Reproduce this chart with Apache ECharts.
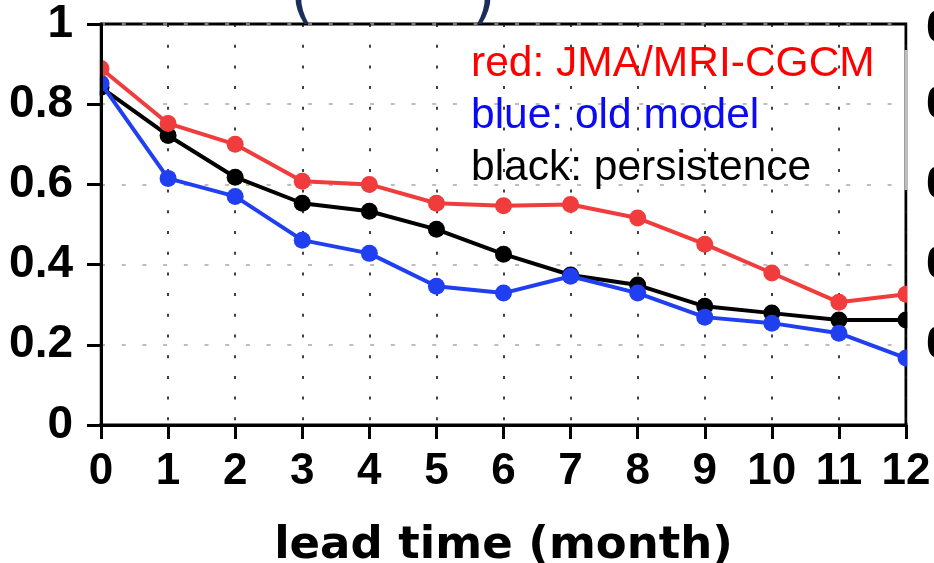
<!DOCTYPE html>
<html>
<head>
<meta charset="utf-8">
<script src="https://cdn.jsdelivr.net/npm/echarts@6/dist/echarts.min.js"></script>
<style>
  html, body { margin: 0; padding: 0; background: #ffffff; }
  #chart { width: 934px; height: 563px; }
</style>
</head>
<body>
<div id="chart"></div>
<script>
// Anomaly correlation versus forecast lead time
const leadMonths = [0, 1, 2, 3, 4, 5, 6, 7, 8, 9, 10, 11, 12];
const jmaMriCgcm = [0.889, 0.752, 0.700, 0.608, 0.600, 0.553, 0.547, 0.550, 0.516, 0.451, 0.379, 0.306, 0.326];
const oldModel = [0.852, 0.615, 0.570, 0.461, 0.428, 0.346, 0.329, 0.371, 0.329, 0.269, 0.254, 0.229, 0.167];
const persistence = [0.842, 0.722, 0.618, 0.553, 0.533, 0.488, 0.426, 0.374, 0.349, 0.296, 0.279, 0.262, 0.262];

const seriesNames = ['red: JMA/MRI-CGCM', 'blue: old model', 'black: persistence'];
const yTickLabels = ['0', '0.2', '0.4', '0.6', '0.8', '1'];
const xTickLabels = ['0', '1', '2', '3', '4', '5', '6', '7', '8', '9', '10', '11', '12'];
const xAxisTitle = 'lead time (month)';
const neighbourTickLabels = ['0', '0', '0', '0', '0'];

const RED = '#f03c3c';
const BLUE = '#1f3ff0';
const BLACK = '#000000';

const pairs = (vals) => leadMonths.map((m, i) => [m, vals[i]]);

const chart = echarts.init(document.getElementById('chart'), null, { renderer: 'canvas' });

const tickFont = '"Liberation Sans", Arial, sans-serif';

const lineSeries = (name, vals, color, z) => ({
  name: name,
  type: 'line',
  xAxisIndex: 0,
  yAxisIndex: 0,
  data: pairs(vals),
  symbol: 'circle',
  symbolSize: 17,
  clip: false,
  z: z,
  lineStyle: { color: color, width: 4 },
  itemStyle: { color: color },
  emphasis: { disabled: true },
  animation: false
});

const option = {
  animation: false,
  grid: {
    left: 101, right: 28, top: 24, bottom: 138,
    outerBoundsMode: 'none',
    containLabel: false,
    show: true, borderColor: '#000', borderWidth: 3, backgroundColor: 'transparent'
  },
  xAxis: [
    {
      // gridlines only, kept below the lines
      type: 'value', min: 0, max: 12, interval: 1, z: 0,
      axisLine: { show: false }, axisTick: { show: false }, axisLabel: { show: false },
      splitLine: { show: true, lineStyle: { color: '#111', width: 1.6, type: [3, 17.7] } }
    },
    {
      type: 'value', min: 0, max: 12, interval: 1, z: 10, position: 'bottom',
      axisLine: { show: true, onZero: false, lineStyle: { color: '#000', width: 3 } },
      axisTick: { show: true, inside: false, length: 14, lineStyle: { color: '#000', width: 3 } },
      axisLabel: {
        show: true, margin: 25, color: '#000',
        fontFamily: tickFont, fontWeight: 'bold', fontSize: 44,
        formatter: (v) => xTickLabels[Math.round(v)]
      },
      splitLine: { show: false },
      name: xAxisTitle, nameLocation: 'middle', nameGap: 99,
      nameTextStyle: { color: '#000', fontFamily: '"DejaVu Sans", sans-serif', fontWeight: 'bold', fontSize: 45 }
    }
  ],
  yAxis: [
    {
      type: 'value', min: 0, max: 1, interval: 0.2, z: 0,
      axisLine: { show: false }, axisTick: { show: false }, axisLabel: { show: false },
      splitLine: { show: true, lineStyle: { color: '#a8a8a8', width: 1.6, type: [4, 16.7] } }
    },
    {
      type: 'value', min: 0, max: 1, interval: 0.2, z: 10, position: 'left',
      axisLine: { show: true, onZero: false, lineStyle: { color: '#000', width: 3 } },
      axisTick: { show: true, inside: false, length: 14, lineStyle: { color: '#000', width: 3 } },
      axisLabel: {
        show: true, margin: 28, color: '#000',
        fontFamily: tickFont, fontWeight: 'bold', fontSize: 46,
        formatter: (v) => yTickLabels[Math.round(v * 5)]
      },
      splitLine: { show: false }
    }
  ],
  series: [
    lineSeries(seriesNames[2], persistence, BLACK, 2),
    lineSeries(seriesNames[1], oldModel, BLUE, 3),
    lineSeries(seriesNames[0], jmaMriCgcm, RED, 4)
  ]
};

chart.setOption(option);

// Plot-area edges in pixels, taken from the axes
const x0 = chart.convertToPixel({ xAxisIndex: 0 }, 0);
const x12 = chart.convertToPixel({ xAxisIndex: 0 }, 12);
const yBottom = chart.convertToPixel({ yAxisIndex: 0 }, 0);

const legendColors = ['#ff0000', '#0a0af5', '#000000'];
const legendEls = seriesNames.map((name, i) => ({
  type: 'text', z: 20,
  x: 471, y: 64 + i * 52,
  style: {
    text: name, fill: legendColors[i],
    font: '42.5px "Liberation Sans", Arial, sans-serif',
    align: 'left', verticalAlign: 'middle'
  }
}));

const neighbourEls = neighbourTickLabels.map((t, i) => ({
  type: 'text', z: 20,
  x: 926, y: chart.convertToPixel({ yAxisIndex: 0 }, 1 - i * 0.2) + (i === 0 ? 5 : 1),
  style: {
    text: t, fill: '#000',
    font: 'bold 46px "Liberation Sans", Arial, sans-serif',
    align: 'left', verticalAlign: 'middle'
  }
}));

chart.setOption({
  graphic: {
    elements: [
      // white masks trim the end markers to the frame
      { type: 'rect', z: 5, shape: { x: 0, y: 0, width: x0 - 1.5, height: yBottom - 2 }, style: { fill: '#fff' } },
      { type: 'rect', z: 5, shape: { x: x12 + 1.5, y: 0, width: 934 - x12, height: yBottom - 2 }, style: { fill: '#fff' } },
      { type: 'line', z: 6, shape: { x1: x12, y1: 50, x2: x12, y2: 190 }, style: { stroke: '#bdbdbd', lineWidth: 3 } },
      { type: 'text', z: 20, x: 302, y: 30, style: { text: '(', fill: '#1c2d5c', font: '60px "DejaVu Sans", sans-serif', align: 'center', verticalAlign: 'bottom' } },
      { type: 'text', z: 20, x: 484, y: 30, style: { text: ')', fill: '#1c2d5c', font: '60px "DejaVu Sans", sans-serif', align: 'center', verticalAlign: 'bottom' } }
    ].concat(legendEls, neighbourEls)
  }
});
</script>
</body>
</html>
